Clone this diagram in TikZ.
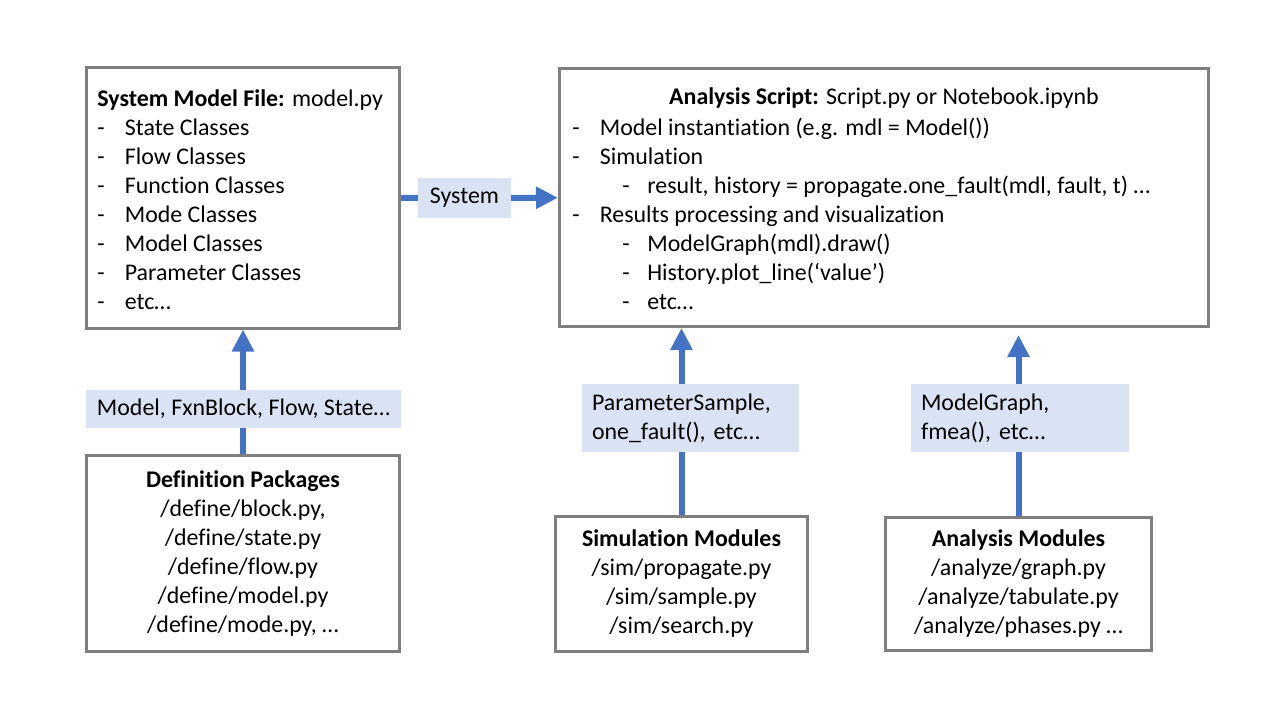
\documentclass[tikz,border=0pt]{standalone}
\usepackage{fontspec}
\setmainfont{Carlito}[Ligatures=NoCommon]
\usetikzlibrary{arrows.meta}
\definecolor{boxgray}{HTML}{7F7F7F}
\definecolor{flowblue}{HTML}{4472C4}
\definecolor{tagfill}{HTML}{DAE3F3}
\newcommand{\itm}{\makebox[0.55cm][l]{-}}
\newcommand{\subitm}{\hspace*{1cm}\makebox[0.5cm][l]{-}}

\begin{document}
\begin{tikzpicture}[x=0.2mm,y=-0.2mm,
  font=\fontsize{13.6}{16.5}\selectfont,
  filebox/.style={draw=boxgray,line width=0.06cm,inner sep=0pt,align=center},
  tag/.style={fill=tagfill,inner sep=0pt},
  flow/.style={draw=flowblue,line width=0.12cm,-{Triangle[length=0.44cm,width=0.42cm]}}]
\useasboundingbox (0,0) rectangle (1280,720);

% file boxes
\node[filebox, minimum width=6.26cm, minimum height=5.2cm] (sysmodel) at (243,198) {};
\node[filebox, minimum width=12.98cm, minimum height=5.16cm] (script) at (884,197.5) {};
\node[filebox, minimum width=6.26cm, minimum height=3.92cm] (defs) at (243,553.5)
  {\textbf{Definition Packages}\\/define/block.py,\\/define/state.py\\/define/flow.py\\/define/model.py\\/define/mode.py, …};
\node[filebox, minimum width=5.04cm, minimum height=2.7cm] (simmod) at (681.5,584)
  {\textbf{Simulation Modules}\\/sim/propagate.py\\/sim/sample.py\\/sim/search.py};
\node[filebox, minimum width=5.32cm, minimum height=2.66cm] (anamod) at (1018.5,584)
  {\textbf{Analysis Modules}\\/analyze/graph.py\\/analyze/tabulate.py\\/analyze/phases.py …};

% box contents
\node[anchor=north west, align=left, inner sep=0pt] (sysmodeltxt) at (97,89)
  {\textbf{System Model File:} model.py\\
   \itm State Classes\\
   \itm Flow Classes\\
   \itm Function Classes\\
   \itm Mode Classes\\
   \itm Model Classes\\
   \itm Parameter Classes\\
   \itm etc…};
\node[inner sep=0pt] (scripttitle) at (884,98) {\textbf{Analysis Script:} Script.py or Notebook.ipynb};
\node[anchor=north west, align=left, inner sep=0pt] (scripttxt) at (572,118)
  {\itm Model instantiation (e.g. mdl = Model())\\
   \itm Simulation\\
   \subitm result, history = propagate.one\_fault(mdl, fault, t) …\\
   \itm Results processing and visualization\\
   \subitm ModelGraph(mdl).draw()\\
   \subitm History.plot\_line(‘value’)\\
   \subitm etc…};

% connectors
\draw[flow] (sysmodel) -- (script);
\draw[flow] (defs.north) -- (sysmodel.south);
\draw[flow] (simmod.north) -- (simmod.north |- script.south);
\draw[flow, shorten >=0.14cm] (anamod.north) -- (anamod.north |- script.south);

% labels on connectors
\node[tag, minimum width=1.86cm, minimum height=0.8cm] (systag) at (464.5,198) {System};
\node[tag, minimum width=6.3cm, minimum height=0.76cm] (deftag) at (243.5,409) {Model, FxnBlock, Flow, State…};
\node[tag, minimum width=4.34cm, minimum height=1.36cm, text width=3.94cm, align=left] (simtag) at (690.5,418)
  {ParameterSample,\\one\_fault(), etc…};
\node[tag, minimum width=4.36cm, minimum height=1.36cm, text width=3.96cm, align=left] (anatag) at (1020,418)
  {ModelGraph,\\fmea(), etc…};
\end{tikzpicture}
\end{document}
